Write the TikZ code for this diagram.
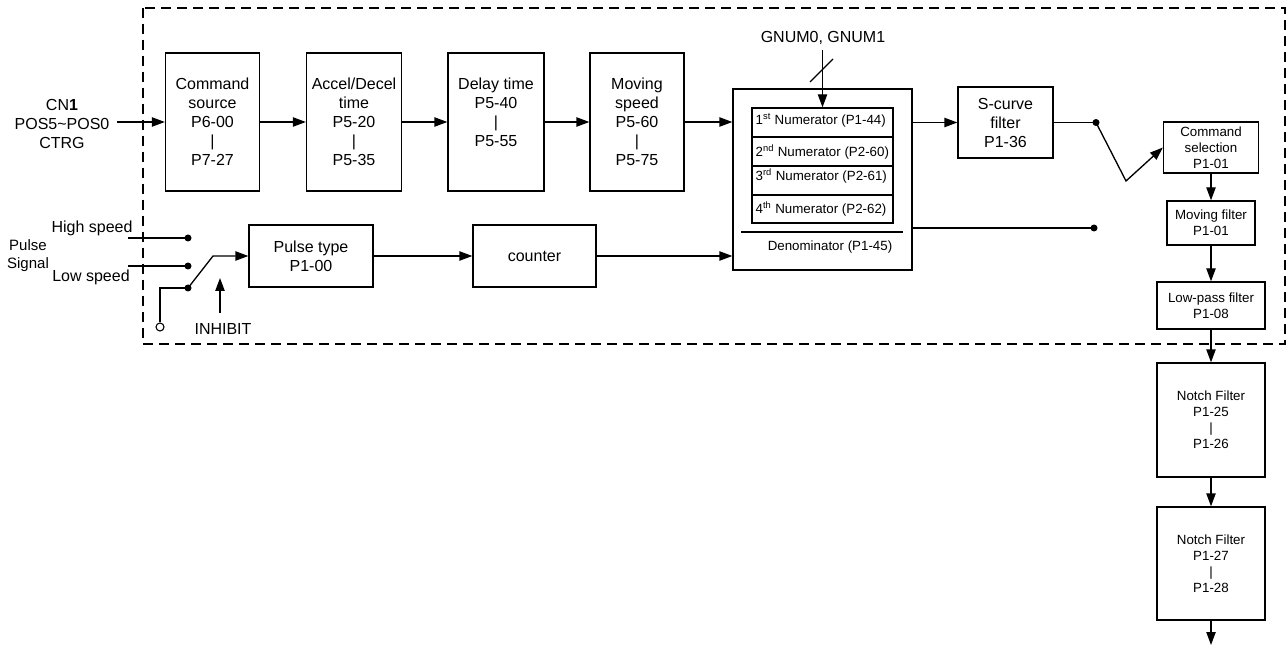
\documentclass[tikz,border=0pt]{standalone}
\usepackage{fontspec}
\setmainfont{Liberation Sans}
\usetikzlibrary{arrows.meta,calc}
\newdimen\pxu \pxu=0.75pt
\begin{document}
\begin{tikzpicture}[x=0.75pt,y=-0.75pt,
  line width=1pt,
  every node/.style={inner sep=0pt},
  blk/.style={draw, line width=1pt, align=center, font=\fontsize{12pt}{14.25pt}\selectfont},
  sblk/.style={draw, line width=1pt, align=center, font=\fontsize{10pt}{12pt}\selectfont},
  lbl/.style={font=\fontsize{12pt}{14.25pt}\selectfont, align=center},
  slbl/.style={font=\fontsize{10pt}{12pt}\selectfont},
  arr/.style={-{Triangle[length=9.75pt,width=7pt]}},
  dot/.style={circle, fill, minimum size=7\pxu},
  odot/.style={circle, draw, fill=white, minimum size=8\pxu, line width=0.8pt},
  frame/.style={dash pattern=on 7.5pt off 4.5pt, line width=1pt}
]
\useasboundingbox (0,0) rectangle (1287,648);
\draw[frame] (143,8) rectangle (1285,344);

% top row
\node[blk, minimum width=94\pxu, minimum height=138\pxu] (cmd) at (212.5,122) {Command\\source\\P6-00\\|\\P7-27};
\node[blk, minimum width=95\pxu, minimum height=138\pxu] (acc) at (354,122) {Accel/Decel\\time\\P5-20\\|\\P5-35};
\node[blk, minimum width=96\pxu, minimum height=138\pxu] (dly) at (496,122) {Delay time\\P5-40\\|\\P5-55\\~};
\node[blk, minimum width=94\pxu, minimum height=138\pxu] (mov) at (637,122) {Moving\\speed\\P5-60\\|\\P5-75};

% bottom row
\node[blk, minimum width=124\pxu, minimum height=62\pxu] (pt) at (311,256) {Pulse type\\P1-00};
\node[blk, minimum width=123\pxu, minimum height=62\pxu] (cnt) at (534.5,256) {counter};

% electronic gear box
\node[draw, minimum width=179\pxu, minimum height=181\pxu] (big) at (822.5,179.5) {};
\node[draw, minimum width=141\pxu, minimum height=115\pxu] (inner) at (822.5,165.5) {};
\draw (752,137) -- (893,137);
\draw (752,166) -- (893,166);
\draw (752,195) -- (893,195);
\draw (741,232) -- (903,232);
\node[slbl, anchor=west] (num1) at (755,120) {1\textsuperscript{st} Numerator (P1-44)};
\node[slbl, anchor=west] (num2) at (755,152) {2\textsuperscript{nd} Numerator (P2-60)};
\node[slbl, anchor=west] (num3) at (755,176) {3\textsuperscript{rd} Numerator (P2-61)};
\node[slbl, anchor=west] (num4) at (755,209) {4\textsuperscript{th} Numerator (P2-62)};
\node[slbl] (den) at (830,247) {Denominator (P1-45)};

\node[lbl] (gn) at (823,38) {GNUM0, GNUM1};
\coordinate (gntop) at (822.5,50);
\draw[arr] (gntop) -- (inner.north);
\draw (810,82) -- (833,59);

% S-curve and right column
\node[blk, minimum width=95\pxu, minimum height=71\pxu] (sc) at (1005.5,122.5) {S-curve\\filter\\P1-36};
\node[sblk, minimum width=95\pxu, minimum height=51\pxu] (cs) at (1211,147.5) {Command\\selection\\P1-01};
\node[sblk, minimum width=88\pxu, minimum height=44\pxu] (mf) at (1211,223) {Moving filter\\P1-01};
\node[sblk, minimum width=108\pxu, minimum height=47\pxu] (lp) at (1211,305.5) {Low-pass filter\\P1-08};
\node[sblk, minimum width=108\pxu, minimum height=114\pxu] (nf1) at (1211,420) {Notch Filter\\P1-25\\|\\P1-26};
\node[sblk, minimum width=108\pxu, minimum height=113\pxu] (nf2) at (1211,563.5) {Notch Filter\\P1-27\\|\\P1-28};
\coordinate (outend) at (1211,645);

% left labels
\node[lbl] (cn) at (62,124) {CN\textbf{1}\\POS5\textasciitilde POS0\\CTRG};
\node[font=\fontsize{11.25pt}{13.5pt}\selectfont, align=center] (ps) at (28,256) {Pulse\\Signal};
\node[lbl] (hs) at (92,228) {High speed};
\node[lbl] (ls) at (91,277) {Low speed};
\node[lbl] (inh) at (223,329) {INHIBIT};

% dots
\node[dot] (dhs) at (188,238) {};
\node[dot] (dls) at (188,266) {};
\node[dot] (dth) at (188,288) {};
\node[odot] (oc) at (160,327) {};
\node[dot] (dsw) at (1096,122.5) {};
\node[dot] (dlo) at (1094,228) {};

\coordinate (cnin) at (117,122);
\coordinate (hsl) at (128,238);
\coordinate (lsl) at (128,266);
\coordinate (lvt) at (213,256);
\coordinate (inhb) at (220,313);
\coordinate (inht) at (220,278);
\coordinate (lvb) at (1126,181);

% connectors
\draw[arr] (cnin) -- (cmd.west);
\draw[arr] (cmd.east) -- (acc.west);
\draw[arr] (acc.east) -- (dly.west);
\draw[arr] (dly.east) -- (mov.west);
\draw[arr] (mov.east) -- (mov.east -| big.west);
\draw[arr] (big.east |- sc.west) -- (sc.west);
\draw (sc.east) -- (dsw.center);
\draw[arr] (dsw.center) -- (lvb) -- (cs.west);
\draw (dlo.center -| big.east) -- (dlo.center);
\draw[arr] (cs.south) -- (mf.north);
\draw[arr] (mf.south) -- (lp.north);
\draw[arr] (lp.south) -- (nf1.north);
\draw[arr] (nf1.south) -- (nf2.north);
\draw[arr] (nf2.south) -- (outend);

\draw (hsl) -- (dhs.center);
\draw (lsl) -- (dls.center);
\draw (dth.center) -- (dth.center -| oc.north) -- (oc.north);
\draw[arr] (dth.center) -- (lvt) -- (pt.west);
\draw[arr] (inhb) -- (inht);
\draw[arr] (pt.east) -- (cnt.west);
\draw[arr] (cnt.east) -- (cnt.east -| big.west);
\end{tikzpicture}
\end{document}
